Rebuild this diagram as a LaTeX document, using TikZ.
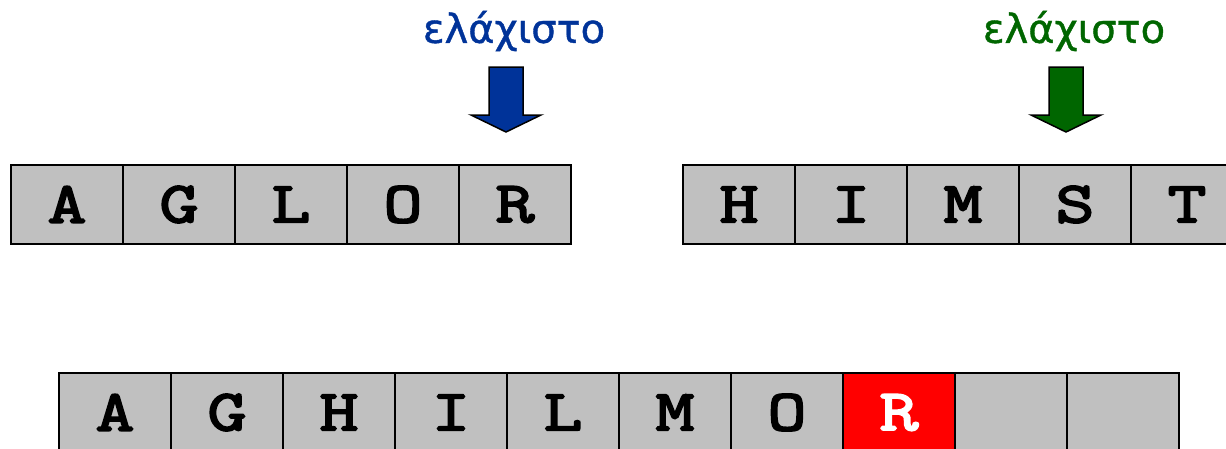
\documentclass[tikz,border=0pt]{standalone}
\usepackage{fontspec}
\newfontfamily\greekfont[FakeBold=1]{DejaVu Sans}
\newfontfamily\cellfont[FakeBold=3.5, FakeStretch=1.3]{Latin Modern Mono}
\definecolor{ablue}{HTML}{003399}
\definecolor{agreen}{HTML}{006600}
\definecolor{cellgray}{HTML}{C0C0C0}
\begin{document}
\begin{tikzpicture}[x=1pt,y=-1pt,
  cell/.style={draw=black, line width=2pt, fill=cellgray, minimum width=112pt, minimum height=79pt, inner sep=0pt, anchor=north west, font=\fontsize{58}{58}\selectfont\cellfont},
  hot/.style={cell, fill=red, text=white},
  label/.style={font=\fontsize{40}{40}\selectfont\greekfont},
  downarrow/.style={draw=black, line width=1.5pt, line join=miter}]
\useasboundingbox (0,0) rectangle (1226,448);
\clip (0,0) rectangle (1226,448);
\foreach \l [count=\i] in {A,G,L,O,R}
  \node[cell] (t\i) at ({10+112*(\i-1)},164) {\l};
\foreach \l [count=\i] in {H,I,M,S,T}
  \node[cell] (s\i) at ({682+112*(\i-1)},164) {\l};
\foreach \l [count=\i] in {A,G,H,I,L,M,O}
  \node[cell] (b\i) at ({58+112*(\i-1)},372) {\l};
\node[hot] (b8) at ({58+112*7},372) {R};
\node[cell] (b9) at ({58+112*8},372) {};
\node[cell] (b10) at ({58+112*9},372) {};
\node[label, text=ablue] (lab1) at (514,31) {ελάχιστο};
\node[label, text=agreen] (lab2) at (1074,31) {ελάχιστο};
\filldraw[downarrow, fill=ablue] (489,67) -- (523,67) -- (523,115) -- (541,115) -- (506,132) -- (471,115) -- (489,115) -- cycle;
\filldraw[downarrow, fill=agreen] (1049,67) -- (1083,67) -- (1083,115) -- (1101,115) -- (1066,132) -- (1031,115) -- (1049,115) -- cycle;
\end{tikzpicture}
\end{document}
